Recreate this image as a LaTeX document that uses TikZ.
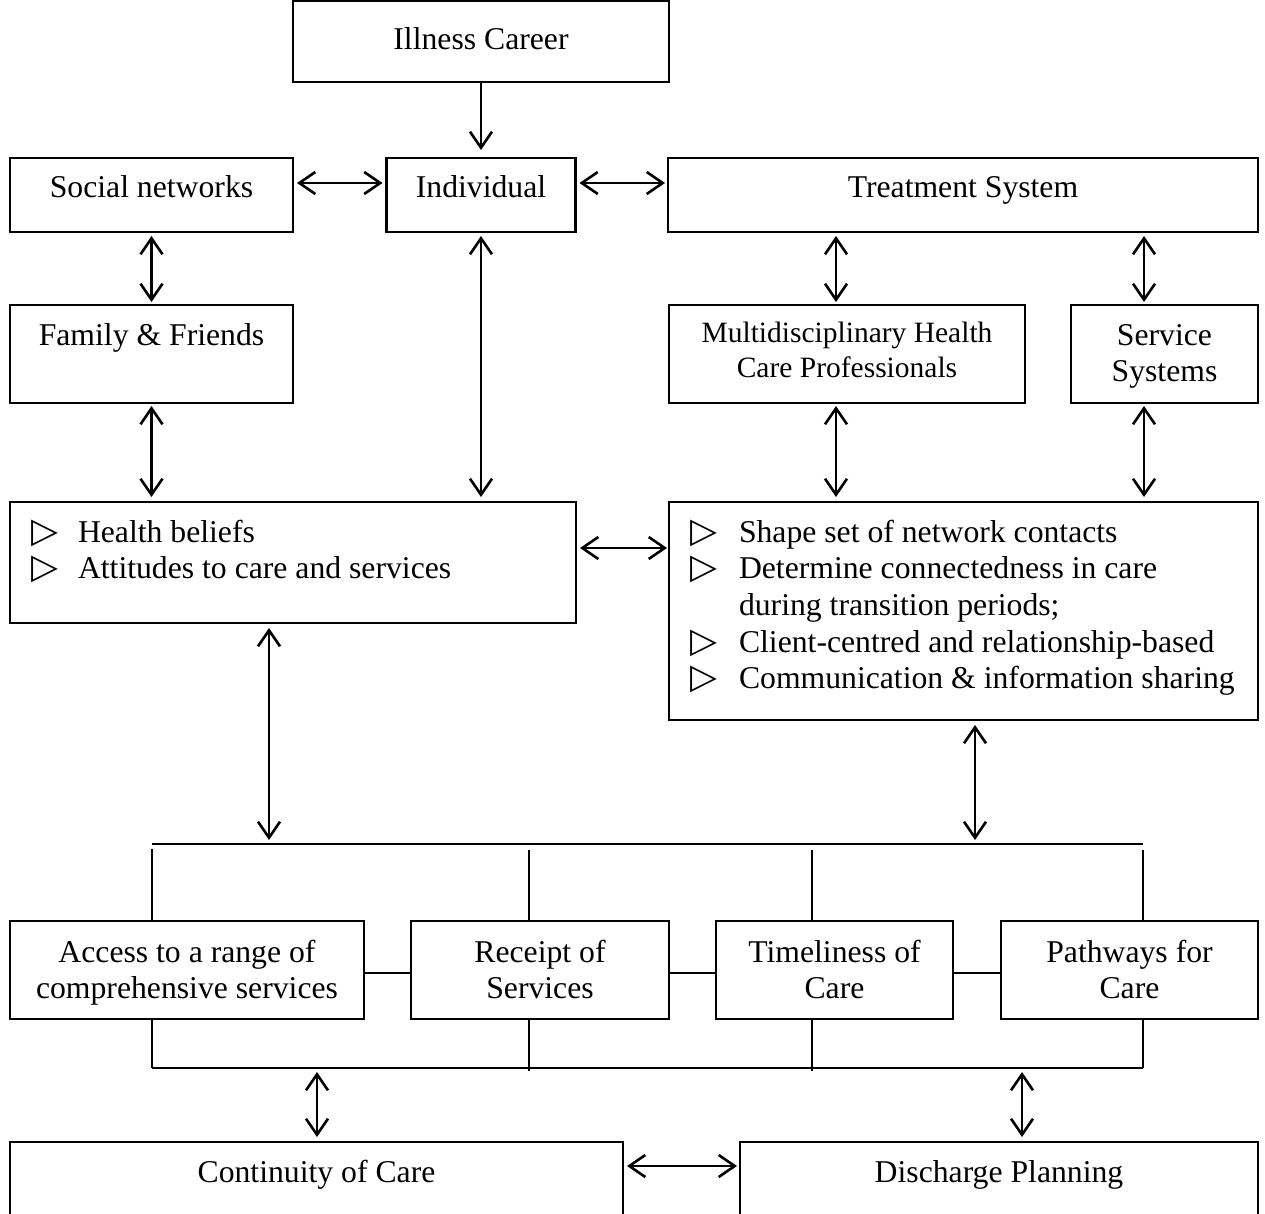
\documentclass[tikz,border=0pt]{standalone}
\usepackage{fontspec}
\setmainfont{Liberation Serif}
\newfontfamily\symfont{DejaVu Sans}
\newcommand{\tri}{{\symfont\fontsize{35}{36.7}\selectfont ▷}}
\usetikzlibrary{arrows.meta}
\begin{document}
\begin{tikzpicture}[x=1pt,y=-1pt,
  box/.style={draw, line width=2.6pt, inner sep=0pt, outer sep=0pt, rectangle},
  lbl/.style={anchor=base, inner sep=0pt, outer sep=0pt, font=\fontsize{31.7}{36.7}\selectfont},
  slbl/.style={anchor=base, inner sep=0pt, outer sep=0pt, font=\fontsize{29.5}{35}\selectfont},
  conn/.style={line width=2.4pt},
  tip/.tip={Straight Barb[length=16pt,width=22pt]},
  biarr/.style={line width=2.6pt, tip-tip},
  onearr/.style={line width=2.6pt, -tip}]
\useasboundingbox (0,0) rectangle (1265,1214);
\clip (0,0) rectangle (1265,1214);
\fill[white] (0,0) rectangle (1265,1214);
% boxes
\node[box, minimum width=376pt, minimum height=81pt] (ill) at (481,41.5) {};
\node[box, minimum width=283pt, minimum height=74pt] (soc) at (151.5,195) {};
\node[box, minimum width=189pt, minimum height=74pt] (ind) at (481,195) {};
\node[box, minimum width=590pt, minimum height=74pt] (trt) at (963,195) {};
\node[box, minimum width=283pt, minimum height=98pt] (fam) at (151.5,354) {};
\node[box, minimum width=356pt, minimum height=98pt] (mul) at (847,354) {};
\node[box, minimum width=187pt, minimum height=98pt] (srv) at (1164.5,354) {};
\node[box, minimum width=566pt, minimum height=121pt] (hb) at (293,562.5) {};
\node[box, minimum width=589pt, minimum height=218pt] (shp) at (963.5,611) {};
\node[box, minimum width=354pt, minimum height=98pt] (acc) at (187,970) {};
\node[box, minimum width=258pt, minimum height=98pt] (rec) at (540,970) {};
\node[box, minimum width=237pt, minimum height=98pt] (tim) at (834.5,970) {};
\node[box, minimum width=257pt, minimum height=98pt] (pat) at (1129.5,970) {};
\node[box, minimum width=613pt, minimum height=80pt] (cont) at (316.5,1182) {};
\node[box, minimum width=518pt, minimum height=80pt] (dis) at (999,1182) {};
% texts
\node[lbl] (tIll) at (481,50) {Illness Career};
\node[lbl] (tSoc) at (151.5,198) {Social networks};
\node[lbl] (tInd) at (481,198) {Individual};
\node[lbl] (tTrt) at (963,198) {Treatment System};
\node[lbl] (tFam) at (151.5,345) {Family \& Friends};
\node[slbl] (tMul) at (847,342) {\begin{tabular}[t]{@{}c@{}}Multidisciplinary Health\\Care Professionals\end{tabular}};
\node[lbl] (tSrv) at (1164.5,345) {\begin{tabular}[t]{@{}c@{}}Service\\Systems\end{tabular}};
\node[lbl, anchor=base west] (tHb) at (31,542) {\begin{tabular}[t]{@{}p{47pt}@{}l@{}}\tri & Health beliefs\\\tri & Attitudes to care and services\end{tabular}};
\node[lbl, anchor=base west] (tShp) at (690,542) {\begin{tabular}[t]{@{}p{49pt}@{}l@{}}\tri & Shape set of network contacts\\\tri & Determine connectedness in care\\ & during transition periods;\\\tri & Client-centred and relationship-based\\\tri & Communication \& information sharing\end{tabular}};
\node[lbl] (tAcc) at (187,962) {\begin{tabular}[t]{@{}c@{}}Access to a range of\\comprehensive services\end{tabular}};
\node[lbl] (tRec) at (540,962) {\begin{tabular}[t]{@{}c@{}}Receipt of\\Services\end{tabular}};
\node[lbl] (tTim) at (834.5,962) {\begin{tabular}[t]{@{}c@{}}Timeliness of\\Care\end{tabular}};
\node[lbl] (tPat) at (1129.5,962) {\begin{tabular}[t]{@{}c@{}}Pathways for\\Care\end{tabular}};
\node[lbl] (tCont) at (316.5,1182) {Continuity of Care};
\node[lbl] (tDis) at (999,1182) {Discharge Planning};
% helper coordinates
\coordinate (tl) at (152,844);
\coordinate (tr) at (1143,844);
\coordinate (bl) at (152,1068);
\coordinate (br) at (1143,1068);
\coordinate (xr) at (529,0);
\coordinate (xt) at (812,0);
\coordinate (am) at (836,0);
\coordinate (as) at (1144,0);
\coordinate (ah) at (269,0);
\coordinate (ash) at (975,0);
\coordinate (ac) at (317,0);
\coordinate (ad) at (1022,0);
% arrows
\draw[onearr, shorten >=8pt] (ill.south) -- (ind.north);
\draw[biarr, shorten <=4pt, shorten >=4pt] ([yshift=12pt]soc.east) -- ([yshift=12pt]ind.west);
\draw[biarr, shorten <=4pt, shorten >=3pt] ([yshift=12pt]ind.east) -- ([yshift=12pt]trt.west);
\draw[biarr, shorten <=4pt, shorten >=3pt] (soc.south) -- (fam.north);
\draw[biarr, shorten <=3pt, shorten >=5pt] (fam.south) -- (hb.north -| fam.south);
\draw[biarr, shorten <=4pt, shorten >=5pt] (ind.south) -- (hb.north -| ind.south);
\draw[biarr, shorten <=4pt, shorten >=3pt] (trt.south -| am) -- (mul.north -| am);
\draw[biarr, shorten <=4pt, shorten >=3pt] (trt.south -| as) -- (srv.north -| as);
\draw[biarr, shorten <=3pt, shorten >=5pt] (mul.south -| am) -- (shp.north -| am);
\draw[biarr, shorten <=3pt, shorten >=5pt] (srv.south -| as) -- (shp.north -| as);
\draw[biarr, shorten <=4pt, shorten >=2pt] ([yshift=14.5pt]hb.east) -- ([yshift=14.5pt]hb.east -| shp.west);
\draw[biarr, shorten <=5pt, shorten >=4pt] (hb.south -| ah) -- (tl -| ah);
\draw[biarr, shorten <=5pt, shorten >=4pt] (shp.south -| ash) -- (tl -| ash);
\draw[biarr, shorten <=4pt, shorten >=5pt] (bl -| ac) -- (cont.north -| ac);
\draw[biarr, shorten <=4pt, shorten >=5pt] (bl -| ad) -- (dis.north -| ad);
\draw[biarr, shorten <=4pt, shorten >=3pt] ([yshift=16pt]cont.east) -- ([yshift=16pt]cont.east -| dis.west);
% brackets
\draw[conn] (tl) -- (tr);
\draw[conn] (bl) -- (br);
\draw[conn] ([yshift=-5pt]tl) -- (acc.north -| tl);
\draw[conn] ([yshift=-6pt]tl -| xr) -- (rec.north -| xr);
\draw[conn] ([yshift=-6pt]tl -| xt) -- (tim.north -| xt);
\draw[conn] ([yshift=-6pt]tr) -- (pat.north -| tr);
\draw[conn] (acc.south -| bl) -- (bl);
\draw[conn] (rec.south -| xr) -- ([yshift=-3pt]bl -| xr);
\draw[conn] (tim.south -| xt) -- ([yshift=-3pt]bl -| xt);
\draw[conn] (pat.south -| br) -- (br);
\draw[conn] ([yshift=-3pt]acc.east) -- ([yshift=-3pt]rec.west);
\draw[conn] ([yshift=-3pt]rec.east) -- ([yshift=-3pt]tim.west);
\draw[conn] ([yshift=-3pt]tim.east) -- ([yshift=-3pt]pat.west);
\end{tikzpicture}
\end{document}
